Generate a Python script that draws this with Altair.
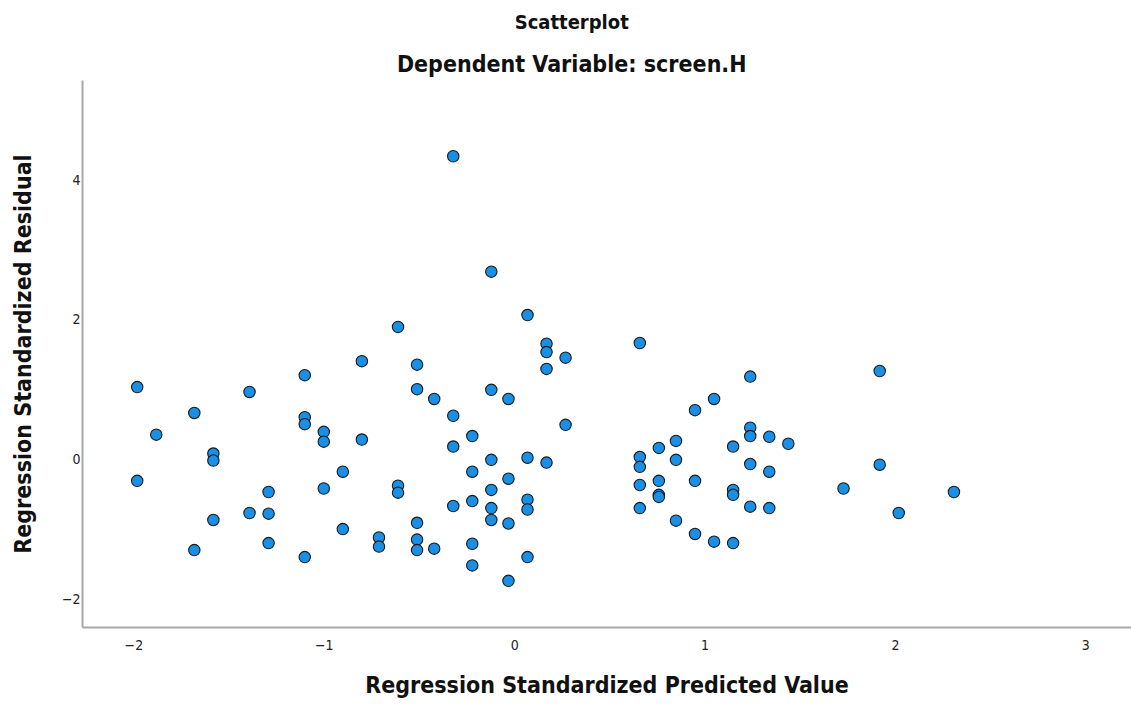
import altair as alt
import pandas as pd

pred = [
    -1.98, -1.88, -1.98, -1.68, -1.68, -1.58, -1.58, -1.58, -1.39, -1.39,
    -1.29, -1.29, -1.29, -1.10, -1.10, -1.10, -1.10, -1.00, -1.00, -1.00,
    -0.90, -0.90, -0.80, -0.80, -0.71, -0.71,
    -0.32, -0.12, 0.07, -0.61, 0.17, 0.17, 0.27, -0.51, 0.17, -0.51,
    -0.42, -0.12, -0.03, -0.32, -0.22, -0.32, 0.27, -0.12, 0.07, 0.17,
    -0.22, -0.03, -0.61, -0.61, -0.12, -0.32, -0.22, -0.12, -0.12, 0.07,
    0.07, -0.03, -0.51, -0.51, -0.51, -0.42, -0.22, 0.07, -0.22, -0.03,
    0.66, 1.24, 1.05, 0.95, 1.24, 1.24, 1.34, 1.44, 0.85, 0.76,
    0.66, 0.66, 0.85, 1.15, 1.24, 1.34, 0.66, 0.76, 0.76, 0.76,
    0.95, 1.15, 1.15, 0.66, 1.24, 1.34, 0.85, 0.95, 1.05, 1.15,
    1.92, 1.92, 1.73, 2.02, 2.31,
]
resid = [
    1.04, 0.36, -0.30, 0.67, -1.29, 0.09, -0.01, -0.86, 0.97, -0.76,
    -0.46, -0.77, -1.19, 1.21, 0.61, 0.51, -1.39, 0.40, 0.26, -0.41,
    -0.17, -0.99, 1.41, 0.29, -1.11, -1.24,
    4.34, 2.69, 2.07, 1.90, 1.66, 1.54, 1.46, 1.36, 1.30, 1.01,
    0.87, 1.00, 0.87, 0.63, 0.34, 0.19, 0.50, 0.00, 0.03, -0.04,
    -0.17, -0.27, -0.37, -0.47, -0.43, -0.66, -0.59, -0.69, -0.86, -0.57,
    -0.71, -0.91, -0.90, -1.14, -1.29, -1.27, -1.20, -1.39, -1.51, -1.73,
    1.67, 1.19, 0.87, 0.71, 0.46, 0.34, 0.33, 0.23, 0.27, 0.17,
    0.04, -0.10, 0.00, 0.19, -0.06, -0.17, -0.36, -0.30, -0.50, -0.53,
    -0.30, -0.43, -0.50, -0.69, -0.67, -0.69, -0.87, -1.06, -1.17, -1.19,
    1.27, -0.07, -0.41, -0.76, -0.46,
]

x_ticks = [-2, -1, 0, 1, 2, 3]
y_ticks = [-2, 0, 2, 4]

df = pd.DataFrame({"pred": pred, "resid": resid})

FONT = "DejaVu Sans Condensed"

chart = (
    alt.Chart(df)
    .mark_circle(size=130, color="#1a8fe6", opacity=1, stroke="#1a1a1a", strokeWidth=1.1)
    .encode(
        x=alt.X(
            "pred:Q",
            title="Regression Standardized Predicted Value",
            scale=alt.Scale(domain=[-2.27, 3.24], nice=False, zero=False),
            axis=alt.Axis(values=x_ticks, grid=False, ticks=False, labelPadding=11,
                          titlePadding=22, format="d"),
        ),
        y=alt.Y(
            "resid:Q",
            title="Regression Standardized Residual",
            scale=alt.Scale(domain=[-2.39, 5.43], nice=False, zero=False),
            axis=alt.Axis(values=y_ticks, grid=False, ticks=False, labelPadding=2,
                          titlePadding=26, format="d"),
        ),
    )
    .properties(
        width=1049,
        height=547,
        autosize=alt.AutoSizeParams(type="none"),
        padding={"left": 82, "top": 80, "right": 0, "bottom": 77},
        title=alt.TitleParams(
            text="Scatterplot",
            subtitle="Dependent Variable: screen.H",
            fontSize=20,
            fontWeight="bold",
            font=FONT,
            subtitleFont=FONT,
            subtitleFontSize=23,
            subtitleFontWeight="bold",
            subtitleColor="#111",
            subtitlePadding=21,
            anchor="middle",
            frame="bounds",
            offset=3,
            color="#111",
        ),
    )
    .configure_view(stroke=None)
    .configure_axis(
        domainColor="#a8a8a8",
        domainWidth=2,
        labelFont=FONT,
        labelFontSize=14,
        labelColor="#222",
        titleFont=FONT,
        titleFontSize=23,
        titleFontWeight="bold",
        titleColor="#111",
    )
)

chart.save("out.html", embed_options={"renderer": "svg", "actions": False})
